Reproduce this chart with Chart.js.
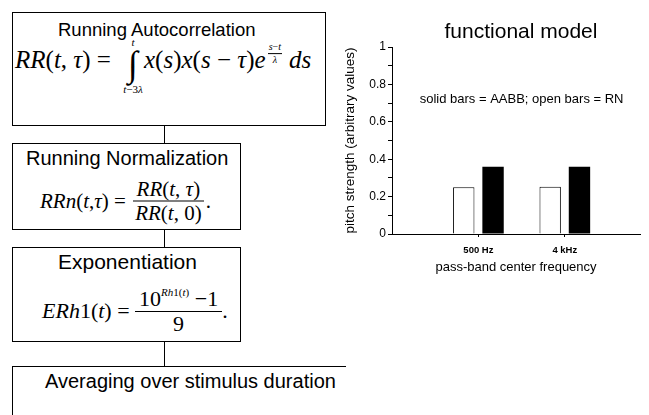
<!DOCTYPE html>
<html>
<head>
<meta charset="utf-8">
<script src="https://cdn.jsdelivr.net/npm/chart.js@4/dist/chart.umd.min.js"></script>
<style>
  html, body { margin: 0; padding: 0; background: #fff; }
  body { width: 649px; height: 415px; position: relative; overflow: hidden; color: #000; }
  .box { position: absolute; border: 1px solid #000; box-sizing: border-box; }
  .link { position: absolute; width: 1px; background: #000; left: 164px; }
  .head { position: absolute; font-family: "Liberation Sans", Arial, sans-serif; white-space: nowrap; line-height: 1; }
  .eq { position: absolute; display: flex; align-items: center; transform: translateY(-50%);
        font-family: "Liberation Serif", "Times New Roman", serif; white-space: pre; line-height: 1; }
  .eq i { font-style: italic; }
  .col { display: flex; flex-direction: column; align-items: center; }
  .frac > .num { border-bottom: 1px solid #000; padding: 0 4px 1px; }
  .frac > .den { padding: 1px 4px 0; }
  .small { font-size: 11px; }
  .intg { font-size: 36px; line-height: 1.05; }
  #wrap { position: absolute; left: 340px; top: 0; width: 309px; height: 280px; }
</style>
</head>
<body>
<!-- processing chain -->
<div class="box" style="left:12px;top:12px;width:314px;height:114px"></div>
<div class="head" style="left:58px;top:21px;font-size:18.5px">Running Autocorrelation</div>
<div class="eq" style="left:15px;top:60px;font-size:25px">
  <span><i>RR</i>(<i>t</i>, <i>τ</i>) =</span>
  <span class="col" style="position:relative;top:6px;margin:0 0 0 11px;width:22px">
    <span class="small" style="margin-bottom:-2px"><i>t</i></span>
    <span class="intg">∫</span>
    <span class="small" style="margin-top:0"><i>t</i>−3<i>λ</i></span>
  </span>
  <span><i>x</i>(<i>s</i>)<i>x</i>(<i>s</i> − <i>τ</i>)<i>e</i></span>
  <span class="col frac" style="font-size:10px;position:relative;top:-6px;margin:0 7px 0 2px">
    <span class="num" style="padding:0 1px 1px"><i>s</i>−<i>t</i></span>
    <span class="den"><i>λ</i></span>
  </span>
  <span><i>ds</i></span>
</div>
<div class="link" style="top:125px;height:19px"></div>

<div class="box" style="left:12px;top:143px;width:229px;height:87px"></div>
<div class="head" style="left:26px;top:148px;font-size:20px">Running Normalization</div>
<div class="eq" style="left:40px;top:201px;font-size:21px">
  <span><i>RRn</i>(<i>t</i>,<i>τ</i>) = </span>
  <span class="col frac">
    <span class="num"><i>RR</i>(<i>t</i>, <i>τ</i>)</span>
    <span class="den"><i>RR</i>(<i>t</i>, 0)</span>
  </span>
  <span>.</span>
</div>
<div class="link" style="top:229px;height:19px"></div>

<div class="box" style="left:12px;top:247px;width:229px;height:95px"></div>
<div class="head" style="left:58px;top:251px;font-size:21px">Exponentiation</div>
<div class="eq" style="left:42px;top:311px;font-size:22px">
  <span><i>ERh</i>1(<i>t</i>) = </span>
  <span class="col frac">
    <span class="num">10<sup style="font-size:11px;vertical-align:10px"><i>Rh</i>1(<i>t</i>)</sup> −1</span>
    <span class="den">9</span>
  </span>
  <span>.</span>
</div>
<div class="link" style="top:341px;height:26px"></div>

<div class="box" style="left:12px;top:366px;width:334px;height:80px;border-right:none"></div>
<div class="head" style="left:45px;top:371px;font-size:20px">Averaging over stimulus duration</div>

<div id="wrap"><canvas id="c"></canvas></div>

<script>
// pass-band conditions and model output (pitch strength, arbitrary units)
const categories = ['500 Hz', '4 kHz'];
const rnValues = [0.25, 0.253];     // open bars: RN
const aabbValues = [0.36, 0.36];    // solid bars: AABB
const yTicks = [0, 0.2, 0.4, 0.6, 0.8, 1];
const chartTitle = 'functional model';
const keyText = 'solid bars = AABB; open bars = RN';

const SANS = '"Liberation Sans", Arial, Helvetica, sans-serif';

const toPoints = vals => vals.map((v, i) => ({ x: i + 1, y: v }));

// title centred over the plot area, plus the bar key inside it
const labelsPlugin = {
  id: 'plotLabels',
  afterDraw(chart) {
    const { ctx, chartArea, scales: { x, y } } = chart;
    ctx.save();
    ctx.fillStyle = '#000';
    ctx.textAlign = 'center';
    ctx.textBaseline = 'middle';
    ctx.font = '21px ' + SANS;
    ctx.fillText(chartTitle, (chartArea.left + chartArea.right) / 2 + 5, 32);
    ctx.font = '13px ' + SANS;
    ctx.fillText(keyText, x.getPixelForValue(1.5), y.getPixelForValue(0.72));
    ctx.restore();
  }
};

new Chart(document.getElementById('c'), {
  type: 'bar',
  data: {
    datasets: [
      { label: 'RN', data: toPoints(rnValues), backgroundColor: '#fff', borderColor: '#000', borderWidth: 1 },
      { label: 'AABB', data: toPoints(aabbValues), backgroundColor: '#000', borderColor: '#000', borderWidth: 0 }
    ]
  },
  options: {
    responsive: true,
    maintainAspectRatio: false,
    animation: false,
    devicePixelRatio: 1,
    categoryPercentage: 0.678,
    barPercentage: 0.73,
    layout: { padding: { left: 0, right: 9, top: 47, bottom: 0 } },
    plugins: {
      legend: { display: false },
      tooltip: { enabled: false },
      title: { display: false }
    },
    scales: {
      x: {
        type: 'linear',
        min: 0,
        max: 2.87,
        offset: false,
        afterBuildTicks(scale) { scale.ticks = categories.map((c, i) => ({ value: i + 1 })); },
        afterFit(scale) { scale.height = 46; },
        ticks: {
          autoSkip: false, maxRotation: 0, padding: 8, color: '#000',
          font: { family: SANS, size: 9.5, weight: 'bold' },
          callback: v => categories[Math.round(v) - 1]
        },
        grid: { drawOnChartArea: false, offset: false, tickLength: 3, color: '#000' },
        border: { display: true, color: '#000', width: 1 },
        title: {
          display: true, text: 'pass-band center frequency', color: '#000',
          font: { family: SANS, size: 13 }, padding: { top: 0, bottom: 5 }
        }
      },
      y: {
        min: 0,
        max: 1,
        afterFit(scale) { scale.width = 52; },
        ticks: {
          stepSize: 0.1, padding: 2, color: '#000',
          font: { family: SANS, size: 12 },
          callback: v => {
            const r = Math.round(v * 10) / 10;
            return yTicks.some(t => Math.abs(t - r) < 1e-9) ? String(r) : '';
          }
        },
        grid: { drawOnChartArea: false, tickLength: 4, color: '#000' },
        border: { display: true, color: '#000', width: 1 },
        title: {
          display: true, text: 'pitch strength (arbitrary values)', color: '#000',
          font: { family: SANS, size: 13.5 }, padding: { top: 2, bottom: 0 }
        }
      }
    }
  },
  plugins: [labelsPlugin]
});
</script>
</body>
</html>
